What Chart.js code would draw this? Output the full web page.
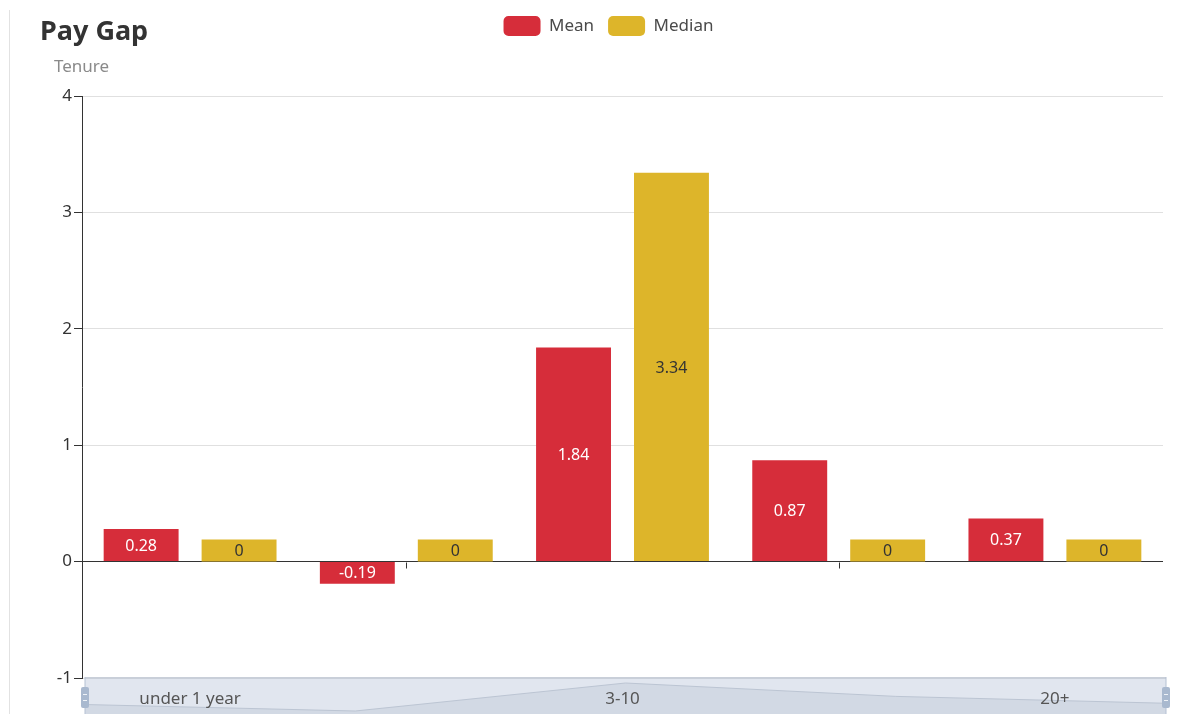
<!DOCTYPE html>
<html><head><meta charset="utf-8">
<script src="https://cdn.jsdelivr.net/npm/chart.js@4.4.1/dist/chart.umd.min.js"></script>
<style>
html,body{margin:0;padding:0;background:#fff;}
#wrap{position:relative;width:1196px;height:714px;overflow:hidden;}
#edge{position:absolute;left:9px;top:10px;width:1px;height:704px;background:#e2e2e2;}
canvas{position:absolute;left:0;top:0;}
</style></head><body>
<div id="wrap"><div id="edge"></div><canvas id="c" width="1196" height="714"></canvas></div>
<script>
const categories = ['under 1 year', '1-3', '3-10', '10-20', '20+'];
const meanValues = [0.28, -0.19, 1.84, 0.87, 0.37];
const medianValues = [0, 0, 3.34, 0, 0];
const seriesNames = ['Mean', 'Median'];
const yMin = -1, yMax = 4, yStep = 1;
const chartTitle = 'Pay Gap';
const axisName = 'Tenure';

const RED = '#d62d3a', GOLD = '#ddb52a';
const MIN_BAR = 22;
const FONT = '"Noto Sans", "Open Sans", sans-serif';

const zeroBarPlugin = {
  id: 'zeroBar',
  afterDatasetsUpdate(chart) {
    const ys = chart.scales.y;
    const zero = ys.getPixelForValue(0);
    chart.data.datasets.forEach((ds, di) => {
      const meta = chart.getDatasetMeta(di);
      meta.data.forEach((el, i) => {
        if (ds.data[i] === 0) { el.base = zero; el.y = zero - MIN_BAR; }
      });
    });
  }
};

const decorPlugin = {
  id: 'decor',
  afterDatasetsDraw(chart) {
    const ctx = chart.ctx;
    const xs = chart.scales.x, ys = chart.scales.y;
    // value labels
    ctx.save();
    ctx.font = '16px ' + FONT;
    ctx.textAlign = 'center';
    ctx.textBaseline = 'middle';
    chart.data.datasets.forEach((ds, di) => {
      const meta = chart.getDatasetMeta(di);
      ctx.fillStyle = di === 0 ? '#ffffff' : '#333333';
      meta.data.forEach((el, i) => {
        ctx.fillText(String(ds.data[i]), el.x, (el.y + el.base) / 2 + 1);
      });
    });
    ctx.restore();
    // small ticks on zero line
    ctx.save();
    ctx.strokeStyle = '#333';
    ctx.lineWidth = 1;
    const z = Math.round(ys.getPixelForValue(0)) + 0.5;
    [1, 3].forEach(i => {
      const px = Math.round(xs.getPixelForValue(i)) + 0.5;
      ctx.beginPath(); ctx.moveTo(px, z); ctx.lineTo(px, z + 6); ctx.stroke();
    });
    ctx.restore();
    // dataZoom slider
    const L = 85, R = 1166, T = chart.chartArea.bottom - 1, H = 40;
    ctx.save();
    ctx.fillStyle = '#e1e6ef';
    ctx.fillRect(L, T, R - L, H);
    // data shadow
    const mn = Math.min(...meanValues), mx = Math.max(...meanValues);
    const top = T + 6, bot = T + 34;
    const pts = meanValues.map((v, i) => [L + i * (R - L) / (meanValues.length - 1), bot - (v - mn) / (mx - mn) * (bot - top)]);
    ctx.beginPath();
    ctx.moveTo(L, T + H);
    pts.forEach(p => ctx.lineTo(p[0], p[1]));
    ctx.lineTo(R, T + H);
    ctx.closePath();
    ctx.fillStyle = '#d2d9e4';
    ctx.fill();
    ctx.beginPath();
    pts.forEach((p, i) => i ? ctx.lineTo(p[0], p[1]) : ctx.moveTo(p[0], p[1]));
    ctx.strokeStyle = '#bcc5d3';
    ctx.lineWidth = 1;
    ctx.stroke();
    // top border
    ctx.fillStyle = '#c9cfd9';
    ctx.fillRect(L, T, R - L, 2);
    // handles
    [L, R].forEach(hx => {
      ctx.fillStyle = '#b6c2d4';
      ctx.fillRect(hx - 0.5, T, 1, H);
      ctx.fillStyle = '#a9b9cf';
      ctx.beginPath();
      ctx.roundRect(hx - 4, T + 10, 8, 21, 2);
      ctx.fill();
      ctx.fillStyle = '#eef2f7';
      ctx.fillRect(hx - 2, T + 17, 4, 1);
      ctx.fillRect(hx - 2, T + 23, 4, 1);
    });
    ctx.restore();
  },
  afterDraw(chart) {
    const ctx = chart.ctx;
    ctx.save();
    ctx.fillStyle = '#333';
    ctx.font = 'bold 27px ' + FONT;
    ctx.textBaseline = 'alphabetic';
    ctx.textAlign = 'left';
    ctx.fillText(chartTitle, 40, 40);
    ctx.fillStyle = '#8a8a8a';
    ctx.font = '17px ' + FONT;
    ctx.fillText(axisName, 54, 72);
    ctx.restore();
  }
};

new Chart(document.getElementById('c'), {
  type: 'bar',
  data: {
    labels: categories,
    datasets: [
      { label: seriesNames[0], data: meanValues, backgroundColor: RED, categoryPercentage: 0.906, barPercentage: 0.765 },
      { label: seriesNames[1], data: medianValues, backgroundColor: GOLD, categoryPercentage: 0.906, barPercentage: 0.765 }
    ]
  },
  options: {
    responsive: false,
    animation: false,
    layout: { padding: { left: 54, right: 33, top: 2, bottom: 0 } },
    plugins: {
      legend: {
        position: 'top',
        align: 'center',
        labels: {
          boxWidth: 37, boxHeight: 20, useBorderRadius: true, borderRadius: 5,
          padding: 14, color: '#4a4a4a', font: { size: 17, family: FONT }
        }
      },
      title: { display: true, text: '', position: 'top', weight: 500, font: { size: 10, lineHeight: 1 }, padding: { top: 40, bottom: 0 } },
      tooltip: { enabled: false }
    },
    scales: {
      x: {
        grid: { display: false, drawTicks: false },
        border: { display: false },
        ticks: {
          z: 1, padding: 11, color: '#555', font: { size: 17, family: FONT }, autoSkip: false, maxRotation: 0,
          callback: (v, i) => i % 2 === 0 ? categories[i] : ''
        },
        afterFit: s => { s.height = 36; }
      },
      y: {
        min: yMin, max: yMax,
        ticks: { stepSize: yStep, color: '#333', padding: 2, font: { size: 17, family: FONT } },
        grid: {
          color: c => c.tick && c.tick.value === 0 ? '#333' : '#e0e0e0',
          tickColor: '#333', tickLength: 8
        },
        border: { display: true, color: '#333' },
        afterFit: s => { s.width = 28; }
      }
    }
  },
  plugins: [zeroBarPlugin, decorPlugin]
});
</script>
</body></html>
